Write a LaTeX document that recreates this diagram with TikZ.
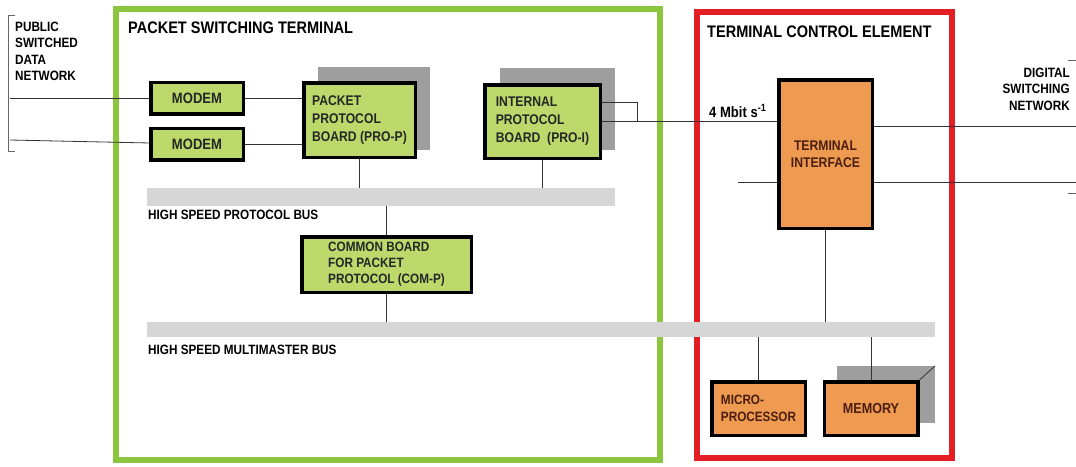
\documentclass[tikz,border=0pt]{standalone}
\usepackage{fontspec}
\setmainfont{Liberation Sans}[FakeStretch=0.87]
\usetikzlibrary{positioning}
\definecolor{Lime}{HTML}{8CC63E}
\definecolor{Leaf}{HTML}{BDD96B}
\definecolor{Amber}{HTML}{EE9A50}
\definecolor{Signal}{HTML}{E31E24}
\definecolor{Rail}{HTML}{D6D6D6}
\definecolor{Slate}{HTML}{9E9E9E}
\definecolor{Umber}{HTML}{4A1E10}

\begin{document}
\begin{tikzpicture}[
  x=1pt,y=-1pt,
  every node/.style={font=\fontsize{13.5}{16.3}\selectfont\bfseries},
  frame/.style={draw=#1,line width=6pt,inner sep=0pt},
  board/.style={draw=black,line width=3.5pt,fill=Leaf,inner sep=0pt,font=\fontsize{14}{18}\selectfont\bfseries,text=black!85},
  hot/.style={board,fill=Amber,text=Umber},
  shade/.style={fill=Slate,inner sep=0pt},
  bus/.style={fill=Rail,inner sep=0pt},
  tag/.style={inner sep=0pt,align=left},
  heading/.style={inner sep=0pt,font=\fontsize{16.7}{19}\selectfont\bfseries},
  wire/.style={line width=0.8pt,draw=black!80}
]
\useasboundingbox[fill=white] (0,0) rectangle (1076,466);

% frames
\node[frame=Lime,minimum width=544,minimum height=451] (pst) at (388,234.5) {};
\node[frame=Signal,minimum width=255,minimum height=446] (tce) at (824.5,235) {};
\node[heading,anchor=west] (pstname) at (128,28) {PACKET SWITCHING TERMINAL};
\node[heading,anchor=west] (tcename) at (707,32) {TERMINAL CONTROL ELEMENT};

% buses
\node[bus,minimum width=468,minimum height=18] (pbus) at (381,197) {};
\node[bus,minimum width=788,minimum height=15] (mbus) at (541,329.5) {};
\node[tag,anchor=west] (pbusname) at (148,215) {HIGH SPEED PROTOCOL BUS};
\node[tag,anchor=west] (mbusname) at (148,350) {HIGH SPEED MULTIMASTER BUS};

% shadows
\node[shade,minimum width=112,minimum height=83] (propshadow) at (374,108.5) {};
\node[shade,minimum width=115,minimum height=82] (proishadow) at (557.5,109) {};
\node[shade,minimum width=98,minimum height=57] (memshadow) at (886,394.5) {};

% boards
\node[board,minimum width=92.5,minimum height=31.5,font=\fontsize{15}{18}\selectfont\bfseries] (modemA) at (197,98) {MODEM};
\node[board,minimum width=92.5,minimum height=31.5,font=\fontsize{15}{18}\selectfont\bfseries,below=11pt of modemA] (modemB) {MODEM};
\node[board,minimum width=111.5,minimum height=74.5,align=left] (prop) at (359.5,120) {PACKET\\PROTOCOL\\BOARD (PRO-P)};
\node[board,minimum width=115.5,minimum height=73.5,align=left] (proi) at (542.5,121.5) {INTERNAL\\PROTOCOL\\BOARD\ \ (PRO-I)};
\node[board,minimum width=169.5,minimum height=55.5,align=left,font=\fontsize{13.5}{16}\selectfont\bfseries] (comp) at (386.5,264.5) {COMMON BOARD\\FOR PACKET\\PROTOCOL (COM-P)};
\node[hot,minimum width=93.5,minimum height=148.5,align=center,font=\fontsize{14}{17}\selectfont\bfseries] (ti) at (825.5,154) {TERMINAL\\INTERFACE};
\node[hot,minimum width=93.5,minimum height=53.5,align=left,font=\fontsize{13.5}{17}\selectfont\bfseries] (cpu) at (758.5,408.5) {MICRO-\\PROCESSOR};
\node[hot,minimum width=93.5,minimum height=53.5,font=\fontsize{14.5}{17}\selectfont\bfseries] (mem) at (871,408.5) {MEMORY};

% outside labels
\node[tag,anchor=north west] (pdn) at (15,22) {PUBLIC\\SWITCHED\\DATA\\NETWORK};
\node[tag,anchor=north east,align=right] (dsn) at (1070,68) {DIGITAL\\SWITCHING\\NETWORK};
\node[tag,anchor=west,font=\fontsize{15}{17}\selectfont\bfseries] (rate) at (709,111) {4 Mbit s\textsuperscript{-1}};

\coordinate (netA) at (10,98);
\coordinate (netB) at (10,140);
\coordinate (dsnA) at (1076,126);
\coordinate (dsnB) at (1076,182);
\coordinate (tap) at (738,182);

% connections
\draw[wire] (netA) -- (modemA);
\draw[wire] (netB) -- (modemB);
\draw[wire] (modemA) -- (modemA -| prop.west);
\draw[wire] (modemB) -- (modemB -| prop.west);
\draw[wire] (prop.south) -- (prop.south |- pbus.north);
\draw[wire] (proi.south) -- (proi.south |- pbus.north);
\draw[wire] (comp.north) -- (comp.north |- pbus.south);
\draw[wire] (comp.south) -- (comp.south |- mbus.north);
\draw[wire] (proi.east) -- (proi.east -| ti.west);
\draw[wire] ([yshift=19.5pt]proi.east) -| ([xshift=35pt]proi.east);
\draw[wire] (ti.east |- dsnA) -- (dsnA);
\draw[wire] (tap) -- (tap -| ti.west);
\draw[wire] (ti.east |- dsnB) -- (dsnB);
\draw[wire] (ti.south) -- (ti.south |- mbus.north);
\draw[wire] (cpu.north) -- (cpu.north |- mbus.south);
\draw[wire] (mem.north) -- (mem.north |- mbus.south);
\draw[wire] (mem.north east) -- (memshadow.north east);

% brackets
\draw[line width=0.6pt,black!60] (15,15) -- (8,15) -- (8,151) -- (15,151);
\draw[line width=0.6pt,black!60] (1068,60) -- (1076,60);
\draw[line width=0.6pt,black!60] (1068,193) -- (1076,193);
\end{tikzpicture}
\end{document}
